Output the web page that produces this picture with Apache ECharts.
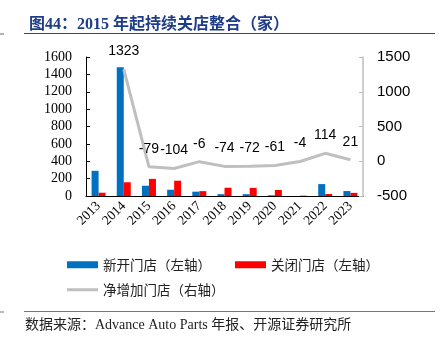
<!DOCTYPE html>
<html>
<head>
<meta charset="utf-8">
<script src="https://cdn.jsdelivr.net/npm/echarts@6/dist/echarts.min.js"></script>
<style>
  html, body { margin: 0; padding: 0; background: #fff; }
  #chart { width: 446px; height: 341px; }
</style>
</head>
<body>
<div id="chart"></div>
<script>
// Advance Auto Parts store openings / closures, 2013-2023
const years = ['2013', '2014', '2015', '2016', '2017', '2018', '2019', '2020', '2021', '2022', '2023'];
const opened = [290, 1481, 118, 72, 50, 21, 21, 8, 0, 137, 57];
const closed = [38, 158, 197, 176, 56, 95, 93, 69, 4, 23, 36];
const netAdded = [null, 1323, -79, -104, -6, -74, -72, -61, -4, 114, 21];
const leftTicks = { min: 0, max: 1600, interval: 200 };
const rightTicks = { min: -500, max: 1500, interval: 500 };

const serif = '"Liberation Serif", "Noto Sans CJK SC", serif';
const sans = '"Liberation Sans", Arial, sans-serif';
const cjk = '"Noto Sans CJK SC", sans-serif';
const plain = v => String(v);

const chart = echarts.init(document.getElementById('chart'), null, { renderer: 'canvas' });

chart.setOption({
  animation: false,
  backgroundColor: '#ffffff',
  title: {
    text: '图44：2015 年起持续关店整合（家）',
    left: 24,
    top: 12,
    textStyle: { color: '#1F3C88', fontSize: 16, fontWeight: 'bold', fontFamily: serif }
  },
  grid: { left: 86, right: 83, top: 57, bottom: 145, containLabel: false },
  legend: [
    {
      data: ['新开门店（左轴）', '关闭门店（左轴）'],
      left: 62, top: 253,
      itemWidth: 31, itemHeight: 7, itemGap: 24,
      icon: 'rect',
      textStyle: { fontSize: 13.5, color: '#222', fontFamily: cjk }
    },
    {
      data: ['净增加门店（右轴）'],
      left: 62, top: 278,
      itemWidth: 31, itemHeight: 3,
      icon: 'rect',
      textStyle: { fontSize: 13.5, color: '#222', fontFamily: cjk }
    }
  ],
  xAxis: {
    type: 'category',
    data: years,
    axisLine: { lineStyle: { color: '#000', width: 1 } },
    axisTick: { inside: true, length: 4, lineStyle: { color: '#000' } },
    axisLabel: { interval: 0, rotate: 45, margin: 8, fontSize: 13.5, color: '#000', fontFamily: serif }
  },
  yAxis: [
    {
      type: 'value',
      min: leftTicks.min, max: leftTicks.max, interval: leftTicks.interval,
      splitLine: { show: false },
      axisLine: { show: true, lineStyle: { color: '#000' } },
      axisTick: { show: true, inside: true, length: 4, lineStyle: { color: '#000' } },
      axisLabel: { margin: 14, fontSize: 14, color: '#000', fontFamily: serif, formatter: plain }
    },
    {
      type: 'value',
      min: rightTicks.min, max: rightTicks.max, interval: rightTicks.interval,
      splitLine: { show: false },
      axisLine: { show: true, lineStyle: { color: '#BFBFBF', width: 1.5 } },
      axisTick: { show: true, inside: true, length: 4, lineStyle: { color: '#BFBFBF' } },
      axisLabel: { margin: 14, fontSize: 15, color: '#000', fontFamily: sans, formatter: plain }
    }
  ],
  series: [
    {
      name: '新开门店（左轴）',
      type: 'bar',
      data: opened,
      barWidth: 7,
      barGap: '0%',
      itemStyle: { color: '#0070C0' }
    },
    {
      name: '关闭门店（左轴）',
      type: 'bar',
      data: closed,
      barWidth: 7,
      itemStyle: { color: '#FF0000' }
    },
    {
      name: '净增加门店（右轴）',
      type: 'line',
      yAxisIndex: 1,
      data: netAdded,
      symbol: 'circle',
      symbolSize: 0,
      lineStyle: { color: '#BFBFBF', width: 3 },
      itemStyle: { color: '#BFBFBF' },
      label: {
        show: true, position: 'top', distance: 11,
        fontSize: 14, color: '#000', fontFamily: sans
      }
    }
  ],
  graphic: [
    { type: 'line', shape: { x1: 24, y1: 33.5, x2: 435, y2: 33.5 }, style: { stroke: '#444', lineWidth: 1 } },
    { type: 'line', shape: { x1: 0, y1: 34, x2: 4, y2: 34 }, style: { stroke: '#666', lineWidth: 1 } },
    { type: 'line', shape: { x1: 24, y1: 311.5, x2: 435, y2: 311.5 }, style: { stroke: '#777', lineWidth: 1 } },
    { type: 'line', shape: { x1: 0, y1: 312, x2: 4, y2: 312 }, style: { stroke: '#777', lineWidth: 1 } },
    {
      type: 'text', left: 25, top: 318,
      style: { text: '数据来源：Advance Auto Parts 年报、开源证券研究所', fontSize: 14, fill: '#222', fontFamily: serif }
    }
  ]
});
</script>
</body>
</html>
